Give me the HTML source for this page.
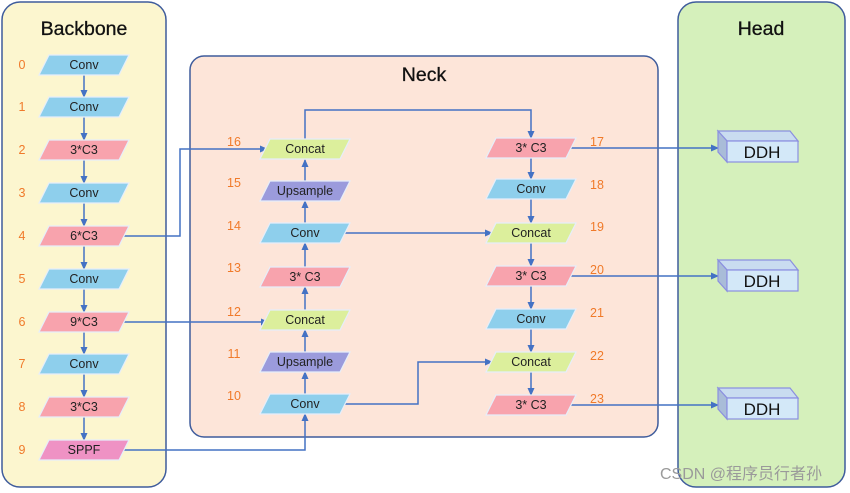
<!DOCTYPE html>
<html><head><meta charset="utf-8"><style>
html,body{margin:0;padding:0;background:#fff;}
svg{display:block;font-family:"Liberation Sans","Noto Sans CJK SC",sans-serif;}
</style></head><body>
<svg width="850" height="493" viewBox="0 0 850 493" xmlns="http://www.w3.org/2000/svg">
<defs>
<marker id="a" markerWidth="8" markerHeight="8" refX="7" refY="4" orient="auto" markerUnits="userSpaceOnUse">
<path d="M0,0.5 L8,4 L0,7.5 Z" fill="#4472c4"/></marker>
</defs>
<rect x="2" y="2" width="164" height="485" rx="18" fill="#fcf6cf" stroke="#3f5c9c" stroke-width="1.5"/>
<rect x="190" y="56" width="468" height="381" rx="14" fill="#fde5d9" stroke="#3f5c9c" stroke-width="1.5"/>
<rect x="678" y="2" width="167" height="485" rx="18" fill="#d5f0bb" stroke="#3f5c9c" stroke-width="1.5"/>
<text x="84" y="35" font-size="19.5" text-anchor="middle" fill="#111" stroke="#111" stroke-width="0.3">Backbone</text>
<text x="424" y="81" font-size="19.5" text-anchor="middle" fill="#111" stroke="#111" stroke-width="0.3">Neck</text>
<text x="761" y="35" font-size="19.5" text-anchor="middle" fill="#111" stroke="#111" stroke-width="0.3">Head</text>

<g stroke="#4472c4" stroke-width="1.5" fill="none">
<line x1="84" y1="75" x2="84" y2="97" marker-end="url(#a)"/>
<line x1="84" y1="117" x2="84" y2="140" marker-end="url(#a)"/>
<line x1="84" y1="160" x2="84" y2="183" marker-end="url(#a)"/>
<line x1="84" y1="203" x2="84" y2="226" marker-end="url(#a)"/>
<line x1="84" y1="246" x2="84" y2="269" marker-end="url(#a)"/>
<line x1="84" y1="289" x2="84" y2="312" marker-end="url(#a)"/>
<line x1="84" y1="332" x2="84" y2="354" marker-end="url(#a)"/>
<line x1="84" y1="374" x2="84" y2="397" marker-end="url(#a)"/>
<line x1="84" y1="417" x2="84" y2="440" marker-end="url(#a)"/>
<polyline points="122,236 180,236 180,149 267,149" marker-end="url(#a)"/>
<polyline points="122,322 268,322" marker-end="url(#a)"/>
<polyline points="122,450 305,450 305,414" marker-end="url(#a)"/>
<line x1="305" y1="394" x2="305" y2="372" marker-end="url(#a)"/>
<line x1="305" y1="352" x2="305" y2="330" marker-end="url(#a)"/>
<line x1="305" y1="310" x2="305" y2="287" marker-end="url(#a)"/>
<line x1="305" y1="267" x2="305" y2="243" marker-end="url(#a)"/>
<line x1="305" y1="223" x2="305" y2="201" marker-end="url(#a)"/>
<line x1="305" y1="181" x2="305" y2="160" marker-end="url(#a)"/>
<polyline points="305,140 305,110 531,110 531,138" marker-end="url(#a)"/>
<polyline points="342,233 492,233" marker-end="url(#a)"/>
<polyline points="342,404 418,404 418,362 492,362" marker-end="url(#a)"/>
<line x1="531" y1="158" x2="531" y2="179" marker-end="url(#a)"/>
<line x1="531" y1="199" x2="531" y2="223" marker-end="url(#a)"/>
<line x1="531" y1="243" x2="531" y2="266" marker-end="url(#a)"/>
<line x1="531" y1="286" x2="531" y2="309" marker-end="url(#a)"/>
<line x1="531" y1="329" x2="531" y2="352" marker-end="url(#a)"/>
<line x1="531" y1="372" x2="531" y2="395" marker-end="url(#a)"/>
<polyline points="568,148 718,148" marker-end="url(#a)"/>
<polyline points="568,276 718,276" marker-end="url(#a)"/>
<polyline points="568,405 718,405" marker-end="url(#a)"/>
</g>

<g stroke="#e6eefa" stroke-width="1.2">
<polygon points="49,55 129,55 119,75 39,75" fill="#8ecfec"/>
<polygon points="49,97 129,97 119,117 39,117" fill="#8ecfec"/>
<polygon points="49,140 129,140 119,160 39,160" fill="#f8a3ad"/>
<polygon points="49,183 129,183 119,203 39,203" fill="#8ecfec"/>
<polygon points="49,226 129,226 119,246 39,246" fill="#f8a3ad"/>
<polygon points="49,269 129,269 119,289 39,289" fill="#8ecfec"/>
<polygon points="49,312 129,312 119,332 39,332" fill="#f8a3ad"/>
<polygon points="49,354 129,354 119,374 39,374" fill="#8ecfec"/>
<polygon points="49,397 129,397 119,417 39,417" fill="#f8a3ad"/>
<polygon points="49,440 129,440 119,460 39,460" fill="#ef92c4"/>
<polygon points="270,139 350,139 340,159 260,159" fill="#dcef9c"/>
<polygon points="270,181 350,181 340,201 260,201" fill="#9b9bdc"/>
<polygon points="270,223 350,223 340,243 260,243" fill="#8ecfec"/>
<polygon points="270,267 350,267 340,287 260,287" fill="#f8a3ad"/>
<polygon points="270,310 350,310 340,330 260,330" fill="#dcef9c"/>
<polygon points="270,352 350,352 340,372 260,372" fill="#9b9bdc"/>
<polygon points="270,394 350,394 340,414 260,414" fill="#8ecfec"/>
<polygon points="496,138 576,138 566,158 486,158" fill="#f8a3ad"/>
<polygon points="496,179 576,179 566,199 486,199" fill="#8ecfec"/>
<polygon points="496,223 576,223 566,243 486,243" fill="#dcef9c"/>
<polygon points="496,266 576,266 566,286 486,286" fill="#f8a3ad"/>
<polygon points="496,309 576,309 566,329 486,329" fill="#8ecfec"/>
<polygon points="496,352 576,352 566,372 486,372" fill="#dcef9c"/>
<polygon points="496,395 576,395 566,415 486,415" fill="#f8a3ad"/>
</g>
<g font-size="12.5" text-anchor="middle" fill="#222">
<text x="84" y="69">Conv</text><text x="84" y="111">Conv</text><text x="84" y="154">3*C3</text>
<text x="84" y="197">Conv</text><text x="84" y="240">6*C3</text><text x="84" y="283">Conv</text>
<text x="84" y="326">9*C3</text><text x="84" y="368">Conv</text><text x="84" y="411">3*C3</text>
<text x="84" y="454">SPPF</text>
<text x="305" y="153">Concat</text><text x="305" y="195">Upsample</text><text x="305" y="237">Conv</text>
<text x="305" y="281">3* C3</text><text x="305" y="324">Concat</text><text x="305" y="366">Upsample</text>
<text x="305" y="408">Conv</text>
<text x="531" y="152">3* C3</text><text x="531" y="193">Conv</text><text x="531" y="237">Concat</text>
<text x="531" y="280">3* C3</text><text x="531" y="323">Conv</text><text x="531" y="366">Concat</text>
<text x="531" y="409">3* C3</text>
</g>
<g font-size="12.5" fill="#f07a2a" text-anchor="middle">
<text x="22" y="69">0</text><text x="22" y="111">1</text><text x="22" y="154">2</text><text x="22" y="197">3</text>
<text x="22" y="240">4</text><text x="22" y="283">5</text><text x="22" y="326">6</text><text x="22" y="368">7</text>
<text x="22" y="411">8</text><text x="22" y="454">9</text>
<text x="234" y="146">16</text><text x="234" y="187">15</text><text x="234" y="230">14</text>
<text x="234" y="272">13</text><text x="234" y="316">12</text><text x="234" y="358">11</text><text x="234" y="400">10</text>
<text x="597" y="146">17</text><text x="597" y="189">18</text><text x="597" y="231">19</text>
<text x="597" y="274">20</text><text x="597" y="317">21</text><text x="597" y="360">22</text><text x="597" y="403">23</text>
</g>
<g stroke="#8b8fe0" stroke-width="1.2">
<g>
<polygon points="718,131 790,131 798,141 727,141" fill="#c9dcf0"/>
<polygon points="718,131 727,141 727,162 718,152" fill="#a9bcd8"/>
<rect x="727" y="141" width="71" height="21" fill="#d3e8f8"/>
</g>
<g transform="translate(0,129)">
<polygon points="718,131 790,131 798,141 727,141" fill="#c9dcf0"/>
<polygon points="718,131 727,141 727,162 718,152" fill="#a9bcd8"/>
<rect x="727" y="141" width="71" height="21" fill="#d3e8f8"/>
</g>
<g transform="translate(0,257)">
<polygon points="718,131 790,131 798,141 727,141" fill="#c9dcf0"/>
<polygon points="718,131 727,141 727,162 718,152" fill="#a9bcd8"/>
<rect x="727" y="141" width="71" height="21" fill="#d3e8f8"/>
</g>
</g>
<g font-size="17" fill="#111" text-anchor="middle">
<text x="762" y="158">DDH</text><text x="762" y="287">DDH</text><text x="762" y="415">DDH</text>
</g>
<text x="741" y="479" font-size="16" fill="#9a9a9a" text-anchor="middle">CSDN @程序员行者孙</text>
</svg>
</body></html>
